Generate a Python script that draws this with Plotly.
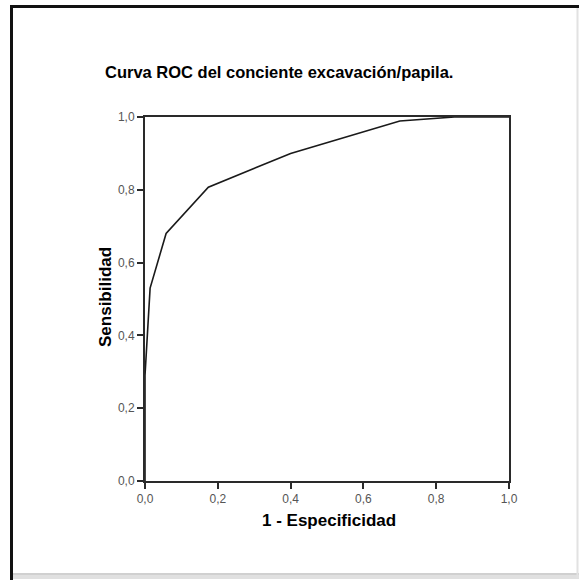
import plotly.graph_objects as go

# ROC curve points: false positive rate (1 - specificity) vs. sensitivity
fpr = [0.0, 0.0, 0.014, 0.058, 0.174, 0.40, 0.70, 0.85, 1.0]
tpr = [0.0, 0.29, 0.53, 0.68, 0.807, 0.90, 0.989, 1.0, 1.0]

tick_vals = [0.0, 0.2, 0.4, 0.6, 0.8, 1.0]
tick_text = ["0,0", "0,2", "0,4", "0,6", "0,8", "1,0"]

title_text = "Curva ROC del conciente excavación/papila."
x_title = "1 - Especificidad"
y_title = "Sensibilidad"

W, H = 579, 580
L, R, T, B = 145, 70, 117, 99
pw, ph = W - L - R, H - T - B
FONT = "Liberation Sans, Arial, sans-serif"


def px(x):
    return (x - L) / pw


def py(y):
    return (H - B - y) / ph


fig = go.Figure()
fig.add_trace(go.Scatter(
    x=fpr, y=tpr, mode="lines",
    line=dict(color="#1a1a1a", width=1.6),
    hoverinfo="skip", showlegend=False,
))

axis_common = dict(
    range=[0, 1],
    tickvals=tick_vals,
    ticktext=tick_text,
    showgrid=False,
    zeroline=False,
    showline=True,
    linecolor="#2a2a2a",
    linewidth=2,
    mirror=True,
    ticks="outside",
    ticklen=6,
    tickwidth=2,
    tickcolor="#2a2a2a",
    tickfont=dict(family=FONT, size=12, color="#555555"),
    fixedrange=True,
)

fig.update_xaxes(**axis_common)
fig.update_yaxes(**axis_common)

annotations = [
    dict(text=title_text, x=px(279), y=py(72), size=16.5),
    dict(text=x_title, x=px(329), y=py(520), size=17),
    dict(text=y_title, x=px(105), y=py(297), size=17, textangle=-90),
]
for a in annotations:
    a["text"] = "<b>" + a["text"] + "</b>"
    a["font"] = dict(family=FONT, size=a.pop("size"), color="#000000")
    a.update(xref="paper", yref="paper", showarrow=False,
             xanchor="center", yanchor="middle")

# Outer frame: dark top/left edges, light grey bottom/right edges
shapes = [
    dict(type="line", xref="paper", yref="paper", x0=px(11), y0=py(576), x1=px(579), y1=py(576),
         line=dict(color="#e0e0e0", width=6)),
    dict(type="line", xref="paper", yref="paper", x0=px(11), y0=py(574), x1=px(579), y1=py(574),
         line=dict(color="#d0d0d0", width=2)),
    dict(type="line", xref="paper", yref="paper", x0=px(577.5), y0=py(6), x1=px(577.5), y1=py(578),
         line=dict(color="#e2e2e2", width=2)),
    dict(type="line", xref="paper", yref="paper", x0=px(10), y0=py(6.5), x1=px(579), y1=py(6.5),
         line=dict(color="#111111", width=3)),
    dict(type="line", xref="paper", yref="paper", x0=px(11.5), y0=py(5), x1=px(11.5), y1=py(580),
         line=dict(color="#111111", width=3)),
]

fig.update_layout(
    width=W, height=H,
    margin=dict(l=L, r=R, t=T, b=B),
    paper_bgcolor="white",
    plot_bgcolor="white",
    separators=", ",
    annotations=annotations,
    shapes=shapes,
    showlegend=False,
)

fig.write_html("out.html", config={"displayModeBar": False})
